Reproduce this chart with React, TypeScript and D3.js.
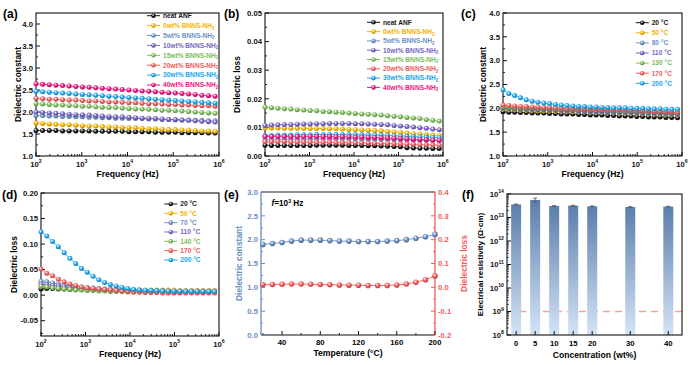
import React from "react";
import * as d3 from "d3";

const FONT = "'Liberation Sans', Arial, Helvetica, sans-serif";

// log10(Hz) grid of the frequency sweeps
const sweepAB = d3.range(28).map(i => 2 + i * 0.145);
const sweepCD = d3.range(31).map(i => 2 + i * 0.13);

const seriesColors = ["#161616", "#f5b400", "#6f93c6", "#7867c6", "#7cbd5b", "#f25c5c", "#20a6ee", "#f0157e"];
const compLabels = ["neat ANF", "0wt% BNNS-NH_2", "5wt% BNNS-NH_2", "10wt% BNNS-NH_2", "15wt% BNNS-NH_2", "20wt% BNNS-NH_2", "30wt% BNNS-NH_2", "40wt% BNNS-NH_2"];
const tempLabelsC = ["20 °C", "50 °C", "80 °C", "110 °C", "130 °C", "170 °C", "200 °C"];
const tempLabelsD = ["20 °C", "50 °C", "70 °C", "110 °C", "140 °C", "170 °C", "200 °C"];

// (a) dielectric constant vs frequency
const epsNeat = [1.58,1.58,1.58,1.58,1.57,1.57,1.57,1.57,1.57,1.56,1.56,1.56,1.56,1.56,1.55,1.55,1.55,1.55,1.54,1.54,1.54,1.54,1.53,1.53,1.53,1.53,1.52,1.52];
const eps0 = [1.75,1.74,1.73,1.72,1.71,1.71,1.70,1.69,1.68,1.68,1.67,1.66,1.66,1.65,1.64,1.64,1.63,1.62,1.62,1.61,1.60,1.60,1.59,1.59,1.58,1.57,1.57,1.56];
const eps5 = [1.92,1.92,1.91,1.91,1.90,1.90,1.89,1.89,1.88,1.88,1.87,1.87,1.86,1.86,1.85,1.85,1.85,1.84,1.84,1.83,1.83,1.82,1.82,1.82,1.81,1.81,1.80,1.80];
const eps10 = [2.00,1.99,1.98,1.97,1.96,1.95,1.94,1.94,1.93,1.92,1.91,1.90,1.89,1.89,1.88,1.87,1.86,1.86,1.85,1.84,1.83,1.83,1.82,1.81,1.80,1.79,1.78,1.77];
const eps15 = [2.19,2.18,2.17,2.16,2.16,2.15,2.14,2.13,2.13,2.12,2.11,2.10,2.10,2.09,2.08,2.07,2.07,2.06,2.05,2.04,2.04,2.03,2.02,2.01,2.00,1.99,1.98,1.97];
const eps20 = [2.31,2.30,2.29,2.29,2.28,2.27,2.27,2.26,2.25,2.25,2.24,2.23,2.23,2.22,2.21,2.21,2.20,2.19,2.19,2.18,2.17,2.17,2.16,2.16,2.15,2.14,2.14,2.13];
const eps30 = [2.47,2.46,2.45,2.44,2.43,2.42,2.41,2.40,2.39,2.38,2.37,2.36,2.35,2.34,2.33,2.32,2.31,2.30,2.29,2.28,2.27,2.26,2.25,2.24,2.23,2.22,2.21,2.20];
const eps40 = [2.64,2.63,2.62,2.61,2.60,2.59,2.58,2.57,2.56,2.55,2.54,2.53,2.52,2.51,2.50,2.49,2.48,2.47,2.46,2.45,2.44,2.43,2.42,2.41,2.40,2.38,2.37,2.36];

// (b) dielectric loss vs frequency
const lossNeat = [0.0038,0.0037,0.0037,0.0037,0.0037,0.0037,0.0037,0.0037,0.0038,0.0038,0.0038,0.0038,0.0038,0.0037,0.0037,0.0037,0.0036,0.0036,0.0035,0.0034,0.0033,0.0032,0.0029,0.0028,0.0027,0.0027,0.0026,0.0026];
const loss0 = [0.0098,0.0098,0.0098,0.0097,0.0097,0.0097,0.0097,0.0096,0.0096,0.0096,0.0095,0.0095,0.0094,0.0093,0.0092,0.0091,0.0090,0.0089,0.0088,0.0086,0.0084,0.0082,0.0080,0.0078,0.0077,0.0075,0.0073,0.0072];
const loss5 = [0.0058,0.0058,0.0058,0.0058,0.0059,0.0059,0.0059,0.0059,0.0060,0.0060,0.0060,0.0060,0.0060,0.0060,0.0060,0.0059,0.0059,0.0059,0.0058,0.0058,0.0057,0.0057,0.0056,0.0056,0.0055,0.0055,0.0054,0.0054];
const loss10 = [0.0107,0.0108,0.0109,0.0110,0.0110,0.0111,0.0112,0.0112,0.0113,0.0113,0.0114,0.0114,0.0114,0.0114,0.0113,0.0113,0.0112,0.0111,0.0110,0.0109,0.0107,0.0105,0.0103,0.0101,0.0099,0.0097,0.0094,0.0092];
const loss15 = [0.0171,0.0169,0.0167,0.0165,0.0164,0.0162,0.0161,0.0159,0.0158,0.0156,0.0155,0.0153,0.0152,0.0150,0.0149,0.0147,0.0146,0.0144,0.0143,0.0141,0.0139,0.0137,0.0135,0.0133,0.0131,0.0128,0.0125,0.0122];
const loss20 = [0.0050,0.0050,0.0050,0.0050,0.0049,0.0049,0.0049,0.0049,0.0048,0.0048,0.0048,0.0047,0.0047,0.0047,0.0046,0.0046,0.0045,0.0045,0.0044,0.0044,0.0043,0.0042,0.0042,0.0041,0.0040,0.0039,0.0039,0.0038];
const loss30 = [0.0072,0.0072,0.0073,0.0073,0.0073,0.0074,0.0074,0.0074,0.0075,0.0075,0.0075,0.0075,0.0075,0.0075,0.0074,0.0074,0.0074,0.0073,0.0073,0.0072,0.0071,0.0070,0.0069,0.0068,0.0067,0.0066,0.0065,0.0064];
const loss40 = [0.0068,0.0068,0.0068,0.0068,0.0068,0.0068,0.0068,0.0068,0.0068,0.0068,0.0068,0.0067,0.0067,0.0067,0.0066,0.0066,0.0065,0.0065,0.0064,0.0063,0.0062,0.0061,0.0060,0.0059,0.0058,0.0057,0.0056,0.0055];

// (c) dielectric constant at temperatures
const epsT20 = [1.93,1.92,1.92,1.91,1.91,1.90,1.90,1.90,1.89,1.89,1.88,1.88,1.88,1.87,1.87,1.86,1.86,1.86,1.85,1.85,1.84,1.84,1.84,1.83,1.83,1.82,1.82,1.82,1.81,1.81,1.80];
const epsT50 = [1.98,1.97,1.97,1.96,1.96,1.96,1.95,1.95,1.95,1.94,1.94,1.94,1.93,1.93,1.93,1.92,1.92,1.92,1.91,1.91,1.90,1.90,1.90,1.89,1.89,1.88,1.88,1.88,1.87,1.87,1.86];
const epsT80 = [2.00,1.99,1.99,1.98,1.98,1.97,1.97,1.97,1.96,1.96,1.95,1.95,1.95,1.94,1.94,1.93,1.93,1.93,1.92,1.92,1.91,1.91,1.91,1.90,1.90,1.89,1.89,1.89,1.88,1.88,1.87];
const epsT110 = [2.01,2.00,2.00,1.99,1.99,1.99,1.98,1.98,1.98,1.97,1.97,1.97,1.96,1.96,1.96,1.95,1.95,1.95,1.94,1.94,1.93,1.93,1.93,1.92,1.92,1.91,1.91,1.91,1.90,1.90,1.89];
const epsT130 = [2.03,2.02,2.02,2.01,2.01,2.01,2.00,2.00,2.00,1.99,1.99,1.99,1.98,1.98,1.98,1.97,1.97,1.97,1.96,1.96,1.95,1.95,1.95,1.94,1.94,1.93,1.93,1.93,1.92,1.92,1.91];
const epsT170 = [2.07,2.06,2.05,2.04,2.04,2.03,2.03,2.02,2.02,2.01,2.01,2.00,2.00,2.00,1.99,1.99,1.99,1.98,1.98,1.97,1.97,1.97,1.96,1.96,1.95,1.95,1.94,1.94,1.93,1.93,1.92];
const epsT200 = [2.39,2.31,2.27,2.22,2.18,2.15,2.13,2.11,2.10,2.08,2.07,2.06,2.05,2.04,2.04,2.03,2.03,2.02,2.02,2.01,2.01,2.01,2.00,2.00,2.00,1.99,1.99,1.99,1.98,1.98,1.98];

// (d) dielectric loss at temperatures
const lossT20 = [0.012,0.013,0.013,0.012,0.012,0.011,0.011,0.011,0.010,0.010,0.010,0.010,0.009,0.009,0.009,0.009,0.009,0.008,0.008,0.008,0.008,0.008,0.008,0.008,0.007,0.007,0.007,0.007,0.007,0.007,0.007];
const lossT50 = [0.018,0.017,0.016,0.015,0.014,0.013,0.013,0.012,0.012,0.012,0.012,0.012,0.011,0.011,0.011,0.011,0.011,0.010,0.010,0.010,0.010,0.010,0.010,0.010,0.009,0.009,0.009,0.009,0.009,0.009,0.009];
const lossT70 = [0.027,0.026,0.024,0.022,0.020,0.019,0.017,0.016,0.015,0.014,0.013,0.012,0.012,0.011,0.011,0.010,0.010,0.010,0.009,0.009,0.009,0.009,0.008,0.008,0.008,0.008,0.008,0.008,0.008,0.008,0.008];
const lossT110 = [0.022,0.021,0.019,0.018,0.016,0.015,0.014,0.013,0.012,0.011,0.011,0.010,0.010,0.009,0.009,0.008,0.008,0.008,0.007,0.007,0.007,0.007,0.006,0.006,0.006,0.006,0.006,0.006,0.006,0.006,0.006];
const lossT140 = [0.017,0.016,0.014,0.013,0.012,0.011,0.010,0.010,0.009,0.009,0.008,0.008,0.007,0.007,0.007,0.006,0.006,0.006,0.006,0.006,0.006,0.006,0.006,0.006,0.006,0.006,0.006,0.006,0.006,0.006,0.006];
const lossT170 = [0.051,0.043,0.038,0.031,0.026,0.022,0.019,0.016,0.014,0.013,0.012,0.011,0.010,0.009,0.008,0.007,0.006,0.006,0.005,0.005,0.005,0.004,0.004,0.004,0.004,0.004,0.004,0.004,0.004,0.004,0.004];
const lossT200 = [0.124,0.116,0.105,0.095,0.083,0.072,0.062,0.052,0.045,0.037,0.030,0.025,0.021,0.018,0.015,0.013,0.011,0.010,0.0095,0.009,0.0085,0.008,0.008,0.0078,0.0076,0.0075,0.0074,0.0073,0.0072,0.0071,0.0070];

// (e) f = 1e3 Hz, temperature sweep
const temps = [20,30,40,50,60,70,80,90,100,110,120,130,140,150,160,170,180,190,200];
const epsVsT = [1.90,1.92,1.94,1.97,1.99,1.99,1.99,1.98,1.97,1.97,1.96,1.96,1.96,1.97,1.98,2.00,2.03,2.06,2.11];
const lossVsT = [0.011,0.012,0.013,0.014,0.014,0.013,0.012,0.011,0.010,0.009,0.009,0.008,0.008,0.008,0.010,0.014,0.021,0.032,0.048];

// (f) resistivity
const concs = [0, 5, 10, 15, 20, 30, 40];
const resistivity = [3.6e13, 5.6e13, 3.1e13, 3.2e13, 3.0e13, 2.8e13, 2.9e13];
const resErr = [0.15e13, 1.1e13, 0.1e13, 0.12e13, 0.1e13, 0.08e13, 0.1e13];
const resLimit = 1e9;

const E_BLUE = "#6a8cc0";
const E_RED = "#f35b5b";
const TICK = 7.7;

const gradId = (c: string) => "ball" + c.replace("#", "");

function Ball({ x, y, r, color }: any) {
  return <circle cx={x} cy={y} r={r} fill={`url(#${gradId(color)})`} />;
}

function Label({ text, x, y, color, size }: any) {
  const parts = text.split("_");
  return (
    <text x={x} y={y} fill={color} fontSize={size}>
      {parts[0]}
      {parts[1] && <tspan dy={1.6} fontSize={size * 0.7}>{parts[1]}</tspan>}
    </text>
  );
}

function Pow10({ x, y, e, anchor, fill }: any) {
  return (
    <text x={x} y={y} textAnchor={anchor} fontSize={TICK} fill={fill || "#111"}>
      10<tspan dy={-3.6} fontSize={5.2}>{e}</tspan>
    </text>
  );
}

function YAxisLin({ scale, ticks, minor, x, fmt, color = "#111", side = "left" }: any) {
  const dir = side === "left" ? 1 : -1;
  return (
    <g>
      {minor.map((v: number, i: number) => (
        <line key={"m" + i} x1={x} x2={x + dir * 2} y1={scale(v)} y2={scale(v)} stroke={color} strokeWidth={0.9} />
      ))}
      {ticks.map((v: number, i: number) => (
        <g key={i}>
          <line x1={x} x2={x + dir * 4} y1={scale(v)} y2={scale(v)} stroke={color} strokeWidth={1} />
          <text x={x - dir * 3} y={scale(v) + 2.8} textAnchor={side === "left" ? "end" : "start"} fontSize={TICK} fill={color}>
            {fmt(v)}
          </text>
        </g>
      ))}
    </g>
  );
}

function FreqPanel({ f, yDomain, yTicks, yMinor, fmt, sweep, series, labels, legend, ylabel, ylabelX, tag, tagPos }: any) {
  const x = d3.scaleLog().domain([1e2, 1e6]).range([f.l, f.r]);
  const y = d3.scaleLinear().domain(yDomain).range([f.b, f.t]);
  const minorX: number[] = [];
  for (let d = 2; d < 6; d++) for (let m = 2; m < 10; m++) minorX.push(m * 10 ** d);
  return (
    <g>
      <rect x={f.l} y={f.t} width={f.r - f.l} height={f.b - f.t} fill="none" stroke="#111" strokeWidth={1.1} />
      {minorX.map((v, i) => (
        <line key={i} x1={x(v)} x2={x(v)} y1={f.b} y2={f.b - 2} stroke="#111" strokeWidth={0.9} />
      ))}
      {[2, 3, 4, 5, 6].map(e => (
        <g key={e}>
          <line x1={x(10 ** e)} x2={x(10 ** e)} y1={f.b} y2={f.b - 4} stroke="#111" strokeWidth={1} />
          <Pow10 x={x(10 ** e)} y={f.b + 10.8} e={e} anchor="middle" />
        </g>
      ))}
      <YAxisLin scale={y} ticks={yTicks} minor={yMinor} x={f.l} fmt={fmt} />
      <text x={(f.l + f.r) / 2} y={f.b + 20.5} textAnchor="middle" fontSize={8.6}>Frequency (Hz)</text>
      <text transform={`translate(${ylabelX},${(f.t + f.b) / 2}) rotate(-90)`} textAnchor="middle" fontSize={8.4}>{ylabel}</text>
      <text x={tagPos[0]} y={tagPos[1]} fontSize={12}>{tag}</text>
      {series.map((vals: number[], si: number) => {
        const c = seriesColors[si];
        const pts = vals.map((v, i) => [x(10 ** sweep[i]), y(v)]);
        return (
          <g key={si}>
            <path d={d3.line()(pts as any) || ""} fill="none" stroke={c} strokeWidth={0.8} />
            {pts.map((p, i) => <Ball key={i} x={p[0]} y={p[1]} r={2.5} color={c} />)}
          </g>
        );
      })}
      {labels.map((lab: string, i: number) => {
        const ly = legend.y + i * legend.dy;
        const c = seriesColors[i];
        return (
          <g key={i}>
            <line x1={legend.x} x2={legend.x + 13} y1={ly} y2={ly} stroke={c} strokeWidth={1} />
            <Ball x={legend.x + 6.5} y={ly} r={2.3} color={c} />
            <Label text={lab} x={legend.x + 16} y={ly + 2.3} color={c} size={6.6} />
          </g>
        );
      })}
    </g>
  );
}

function PanelE() {
  const f = { l: 261, r: 435, t: 192, b: 335 };
  const x = d3.scaleLinear().domain([18, 200]).range([f.l, f.r]);
  const yL = d3.scaleLinear().domain([0, 3]).range([f.b, f.t]);
  const yR = d3.scaleLinear().domain([-0.2, 0.4]).range([f.b, f.t]);
  const lineL = d3.line<number>().x((_, i) => x(temps[i])).y(v => yL(v));
  const lineR = d3.line<number>().x((_, i) => x(temps[i])).y(v => yR(v));
  return (
    <g>
      <line x1={f.l} x2={f.r} y1={f.t} y2={f.t} stroke="#222" strokeWidth={1.1} />
      <line x1={f.l} x2={f.r} y1={f.b} y2={f.b} stroke="#111" strokeWidth={1.1} />
      <line x1={f.l} x2={f.l} y1={f.t} y2={f.b} stroke={E_BLUE} strokeWidth={1.3} />
      <line x1={f.r} x2={f.r} y1={f.t} y2={f.b} stroke={E_RED} strokeWidth={1.3} />
      {[20, 60, 100, 140, 180].map(v => (
        <line key={v} x1={x(v)} x2={x(v)} y1={f.b} y2={f.b - 2} stroke="#111" strokeWidth={0.9} />
      ))}
      {[40, 80, 120, 160, 200].map(v => (
        <g key={v}>
          <line x1={x(v)} x2={x(v)} y1={f.b} y2={f.b - 4} stroke="#111" strokeWidth={1} />
          <text x={x(v)} y={f.b + 10} textAnchor="middle" fontSize={TICK}>{v}</text>
        </g>
      ))}
      <YAxisLin scale={yL} ticks={d3.range(0, 3.01, 0.5)} minor={d3.range(0.25, 3, 0.5)} x={f.l} fmt={(v: number) => v.toFixed(1)} color={E_BLUE} />
      <YAxisLin scale={yR} ticks={d3.range(-0.2, 0.401, 0.1)} minor={d3.range(-0.15, 0.4, 0.1)} x={f.r} fmt={(v: number) => (Math.abs(v) < 1e-9 ? 0 : v).toFixed(1)} color={E_RED} side="right" />
      <text x={(f.l + f.r) / 2} y={356} textAnchor="middle" fontSize={8.6}>Temperature (°C)</text>
      <text transform={`translate(242,${(f.t + f.b) / 2}) rotate(-90)`} textAnchor="middle" fontSize={8.4} fill={E_BLUE}>Dielectric constant</text>
      <text transform={`translate(466.5,${(f.t + f.b) / 2}) rotate(-90)`} textAnchor="middle" fontSize={8.4} fill={E_RED}>Dielectric loss</text>
      <text x={271.5} y={206} fontSize={8.2}>
        <tspan fontStyle="italic">f</tspan>=10<tspan dy={-3.4} fontSize={5.2}>3</tspan><tspan dy={3.4}> Hz</tspan>
      </text>
      <text x={224} y={198.5} fontSize={12}>(e)</text>
      <path d={lineL(epsVsT) || ""} fill="none" stroke={E_BLUE} strokeWidth={0.9} />
      {epsVsT.map((v, i) => <Ball key={i} x={x(temps[i])} y={yL(v)} r={2.8} color={E_BLUE} />)}
      <path d={lineR(lossVsT) || ""} fill="none" stroke={E_RED} strokeWidth={0.9} />
      {lossVsT.map((v, i) => <Ball key={i} x={x(temps[i])} y={yR(v)} r={2.8} color={E_RED} />)}
    </g>
  );
}

function PanelF() {
  const f = { l: 507, r: 682, t: 194, b: 335 };
  const x = d3.scaleLinear().domain([-2.4, 43.6]).range([f.l, f.r]);
  const y = d3.scaleLog().domain([1e8, 1e14]).range([f.b, f.t]);
  const bw = 10;
  const minorY: number[] = [];
  for (let d = 8; d < 14; d++) for (let m = 2; m < 10; m++) minorY.push(m * 10 ** d);
  return (
    <g>
      <line x1={f.l} x2={f.r} y1={y(resLimit)} y2={y(resLimit)} stroke="#f4a3a3" strokeWidth={1.6} strokeDasharray="7,5" />
      {resistivity.map((v, i) => (
        <g key={i}>
          <rect x={x(concs[i]) - bw / 2} y={y(v)} width={bw} height={y(1e8) - y(v)} fill="url(#barGrad)" />
          <line x1={x(concs[i])} x2={x(concs[i])} y1={y(v - resErr[i])} y2={y(v + resErr[i])} stroke="#555" strokeWidth={0.8} />
          <line x1={x(concs[i]) - 2} x2={x(concs[i]) + 2} y1={y(v + resErr[i])} y2={y(v + resErr[i])} stroke="#555" strokeWidth={0.8} />
          <line x1={x(concs[i]) - 2} x2={x(concs[i]) + 2} y1={y(v - resErr[i])} y2={y(v - resErr[i])} stroke="#555" strokeWidth={0.8} />
        </g>
      ))}
      <rect x={f.l} y={f.t} width={f.r - f.l} height={f.b - f.t} fill="none" stroke="#111" strokeWidth={1.1} />
      {minorY.map((v, i) => (
        <line key={i} x1={f.l} x2={f.l + 2} y1={y(v)} y2={y(v)} stroke="#111" strokeWidth={0.7} />
      ))}
      {d3.range(8, 15).map(e => (
        <g key={e}>
          <line x1={f.l} x2={f.l + 4} y1={y(10 ** e)} y2={y(10 ** e)} stroke="#111" strokeWidth={1} />
          <Pow10 x={f.l - 3} y={y(10 ** e) + 2.8} e={e} anchor="end" />
        </g>
      ))}
      {concs.map(c => (
        <g key={c}>
          <line x1={x(c)} x2={x(c)} y1={f.b} y2={f.b - 4} stroke="#111" strokeWidth={1} />
          <text x={x(c)} y={f.b + 11} textAnchor="middle" fontSize={TICK}>{c}</text>
        </g>
      ))}
      <text x={(f.l + f.r) / 2} y={358} textAnchor="middle" fontSize={8.6}>Concentration (wt%)</text>
      <text transform={`translate(482.5,${(f.t + f.b) / 2}) rotate(-90)`} textAnchor="middle" fontSize={8}>Electrical resistivity (Ω·cm)</text>
      <text x={462} y={198.5} fontSize={12}>(f)</text>
    </g>
  );
}

export default function App() {
  const allColors = [...seriesColors, E_BLUE, E_RED];
  const fmt1 = (v: number) => v.toFixed(1);
  const fmt2 = (v: number) => (Math.abs(v) < 1e-9 ? 0 : v).toFixed(2);
  return (
    <div style={{ position: "absolute", left: 0, top: 0 }}>
      <svg width={692} height={365} style={{ display: "block", background: "#fff" }} fontFamily={FONT} fontWeight="bold">
        <defs>
          {allColors.map(c => (
            <radialGradient key={c} id={gradId(c)} cx="0.4" cy="0.35" r="0.65">
              <stop offset="0" stopColor="#ffffff" />
              <stop offset="0.5" stopColor={c} />
              <stop offset="1" stopColor={d3.color(c)!.darker(0.7).formatHex()} />
            </radialGradient>
          ))}
          <linearGradient id="barGrad" x1="0" y1="0" x2="0" y2="1">
            <stop offset="0" stopColor="#5b7eac" />
            <stop offset="1" stopColor="#d4e4f6" />
          </linearGradient>
        </defs>
        <FreqPanel
          f={{ l: 36, r: 219, t: 13, b: 156 }}
          yDomain={[1, 4.25]} yTicks={d3.range(1, 4.01, 0.5)} yMinor={d3.range(1.25, 4.25, 0.5)} fmt={fmt1}
          sweep={sweepAB} series={[epsNeat, eps0, eps5, eps10, eps15, eps20, eps30, eps40]} labels={compLabels}
          legend={{ x: 147, y: 15.7, dy: 9.9 }} ylabel="Dielectric constant" ylabelX={20.5} tag="(a)" tagPos={[3, 18]}
        />
        <FreqPanel
          f={{ l: 265, r: 443, t: 13, b: 156 }}
          yDomain={[0, 0.05]} yTicks={d3.range(0, 0.0501, 0.01)} yMinor={d3.range(0.005, 0.05, 0.01)} fmt={fmt2}
          sweep={sweepAB} series={[lossNeat, loss0, loss5, loss10, loss15, loss20, loss30, loss40]} labels={compLabels}
          legend={{ x: 367, y: 22.3, dy: 9.3 }} ylabel="Dielectric loss" ylabelX={240} tag="(b)" tagPos={[224, 18]}
        />
        <FreqPanel
          f={{ l: 503, r: 682, t: 13, b: 156 }}
          yDomain={[1, 4]} yTicks={d3.range(1, 4.01, 0.5)} yMinor={d3.range(1.25, 4, 0.5)} fmt={fmt1}
          sweep={sweepCD} series={[epsT20, epsT50, epsT80, epsT110, epsT130, epsT170, epsT200]} labels={tempLabelsC}
          legend={{ x: 635.7, y: 22.7, dy: 10.1 }} ylabel="Dielectric constant" ylabelX={485.5} tag="(c)" tagPos={[461, 18]}
        />
        <FreqPanel
          f={{ l: 41, r: 219, t: 193, b: 336 }}
          yDomain={[-0.08, 0.2]} yTicks={d3.range(-0.05, 0.2001, 0.05)} yMinor={d3.range(-0.075, 0.2, 0.05)} fmt={fmt2}
          sweep={sweepCD} series={[lossT20, lossT50, lossT70, lossT110, lossT140, lossT170, lossT200]} labels={tempLabelsD}
          legend={{ x: 164.3, y: 204, dy: 9.33 }} ylabel="Dielectric loss" ylabelX={17} tag="(d)" tagPos={[2, 198.5]}
        />
        <PanelE />
        <PanelF />
      </svg>
    </div>
  );
}
